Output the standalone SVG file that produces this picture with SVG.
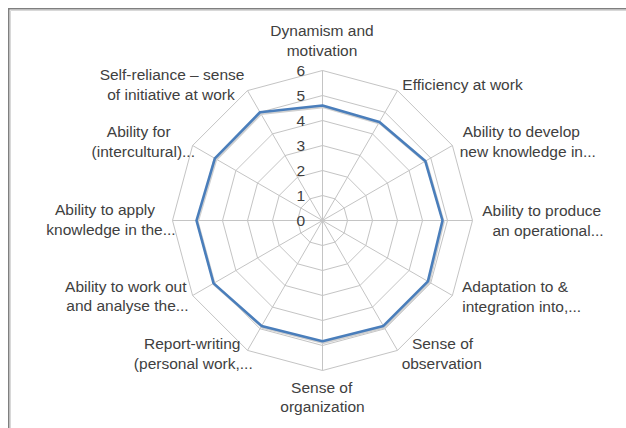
<svg xmlns="http://www.w3.org/2000/svg" width="626" height="428" viewBox="0 0 626 428">
<style>
  .lbl { font-family: "Liberation Sans", Arial, sans-serif; font-size: 15.5px; fill: #404040; text-anchor: middle; }
  .tick { font-family: "Liberation Sans", Arial, sans-serif; font-size: 15.5px; fill: #404040; text-anchor: end; }
  .ring { fill: none; stroke: #c4c4c4; stroke-width: 1; }
  .spoke { fill: none; stroke: #c4c4c4; stroke-width: 1; }
  .series { fill: none; stroke: #4a7ebb; stroke-width: 2.6; stroke-linejoin: round; }
  .shadow { fill: none; stroke: #d0d0d0; stroke-width: 2.6; stroke-linejoin: round; }
</style>
<rect x="0" y="0" width="626" height="428" fill="#ffffff"/>
<rect x="8.75" y="8.75" width="700" height="500" fill="none" stroke="#7f7f7f" stroke-width="1.5"/>
<path d="M10.5 10.5 V428 M10.5 10.5 H626" fill="none" stroke="#d8d8d8" stroke-width="1"/>

<g id="grid" transform="translate(322.5,220.5)">
  <polygon class="ring" points="0,-25 12.5,-21.65 21.65,-12.5 25,0 21.65,12.5 12.5,21.65 0,25 -12.5,21.65 -21.65,12.5 -25,0 -21.65,-12.5 -12.5,-21.65"/>
  <polygon class="ring" points="0,-50 25,-43.3 43.3,-25 50,0 43.3,25 25,43.3 0,50 -25,43.3 -43.3,25 -50,0 -43.3,-25 -25,-43.3"/>
  <polygon class="ring" points="0,-75 37.5,-64.95 64.95,-37.5 75,0 64.95,37.5 37.5,64.95 0,75 -37.5,64.95 -64.95,37.5 -75,0 -64.95,-37.5 -37.5,-64.95"/>
  <polygon class="ring" points="0,-100 50,-86.6 86.6,-50 100,0 86.6,50 50,86.6 0,100 -50,86.6 -86.6,50 -100,0 -86.6,-50 -50,-86.6"/>
  <polygon class="ring" points="0,-125 62.5,-108.25 108.25,-62.5 125,0 108.25,62.5 62.5,108.25 0,125 -62.5,108.25 -108.25,62.5 -125,0 -108.25,-62.5 -62.5,-108.25"/>
  <polygon class="ring" points="0,-150 75,-129.9 129.9,-75 150,0 129.9,75 75,129.9 0,150 -75,129.9 -129.9,75 -150,0 -129.9,-75 -75,-129.9"/>
  <path class="spoke" d="M0 0 L0 -150 M0 0 L75 -129.9 M0 0 L129.9 -75 M0 0 L150 0 M0 0 L129.9 75 M0 0 L75 129.9 M0 0 L0 150 M0 0 L-75 129.9 M0 0 L-129.9 75 M0 0 L-150 0 M0 0 L-129.9 -75 M0 0 L-75 -129.9"/>
</g>

<g id="ticks">
  <text class="tick" x="305" y="226">0</text>
  <text class="tick" x="305" y="201">1</text>
  <text class="tick" x="305" y="176">2</text>
  <text class="tick" x="305" y="151">3</text>
  <text class="tick" x="305" y="126">4</text>
  <text class="tick" x="305" y="101">5</text>
  <text class="tick" x="305" y="76">6</text>
</g>

<g id="connectors">
  <polygon class="shadow" transform="translate(1,1.5)" points="322.5,105.5 379.4,122 425.3,161.1 442.5,220.5 427.9,281.4 383.4,325.9 322.5,341.25 261.6,325.9 213.6,283.4 196.5,220.5 214.9,158.4 260,112.25"/>
  <polygon class="series" points="322.5,105.5 379.4,122 425.3,161.1 442.5,220.5 427.9,281.4 383.4,325.9 322.5,341.25 261.6,325.9 213.6,283.4 196.5,220.5 214.9,158.4 260,112.25"/>
</g>

<g id="axis-dynamism"><text class="lbl" x="322" y="36">Dynamism and</text><text class="lbl" x="322" y="56">motivation</text></g>
<g id="axis-efficiency"><text class="lbl" x="462.5" y="90">Efficiency at work</text></g>
<g id="axis-develop"><text class="lbl" x="521.3" y="136.7">Ability to develop</text><text class="lbl" x="527.8" y="156.7">new knowledge in...</text></g>
<g id="axis-produce"><text class="lbl" x="541.7" y="216">Ability to produce</text><text class="lbl" x="548" y="236">an operational...</text></g>
<g id="axis-adaptation"><text class="lbl" x="515" y="291.7">Adaptation to &amp;</text><text class="lbl" x="521.7" y="311.7">integration into,...</text></g>
<g id="axis-observation"><text class="lbl" x="442.5" y="349.3">Sense of</text><text class="lbl" x="441.7" y="369.3">observation</text></g>
<g id="axis-organization"><text class="lbl" x="321.7" y="392.7">Sense of</text><text class="lbl" x="322.5" y="411.7">organization</text></g>
<g id="axis-report"><text class="lbl" x="192.2" y="349.3">Report-writing</text><text class="lbl" x="193.3" y="369.3">(personal work,...</text></g>
<g id="axis-workout"><text class="lbl" x="125.8" y="291.7">Ability to work out</text><text class="lbl" x="127.5" y="310.5">and analyse the...</text></g>
<g id="axis-apply"><text class="lbl" x="105" y="215">Ability to apply</text><text class="lbl" x="111" y="235">knowledge in the...</text></g>
<g id="axis-intercultural"><text class="lbl" x="138.7" y="136.7">Ability for</text><text class="lbl" x="143.3" y="156.7">(intercultural)...</text></g>
<g id="axis-selfreliance"><text class="lbl" x="172" y="80">Self-reliance – sense</text><text class="lbl" x="171" y="100">of initiative at work</text></g>
</svg>
